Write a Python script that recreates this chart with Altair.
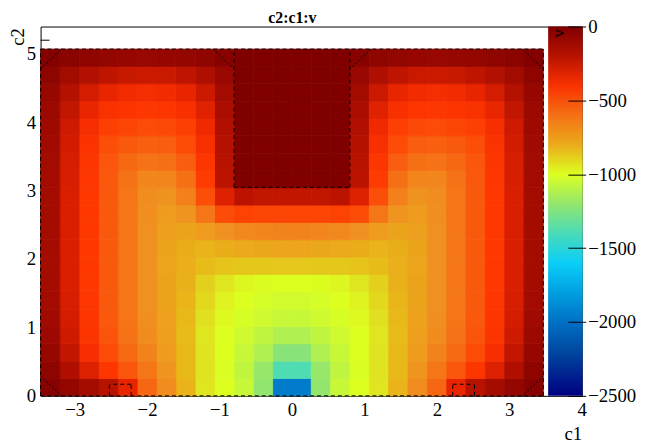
import altair as alt
import pandas as pd

# ---------------- data ----------------
# cell edges for the half c1 >= 0 (the field is mirror-symmetric in c1)
c1_edges = [0.0, 0.267, 0.534, 0.801, 1.068, 1.335, 1.602, 1.869,
            2.136, 2.403, 2.670, 2.937, 3.204, 3.470]
c2_edges = [0.0, 0.2535, 0.507, 0.7605, 1.014, 1.2675, 1.521, 1.7745,
            2.028, 2.2815, 2.535, 2.7885, 3.042, 3.2955, 3.549, 3.8025,
            4.056, 4.3095, 4.563, 4.8165, 5.07]

# potential v per cell, rows from c2=0 upward, columns from c1=0 outward
v_rows = [
    [-1950, -1200, -1060, -1000, -960, -830, -690, -570, -330, -200, -130, -70, -25],
    [-1380, -1190, -1080, -1010, -955, -850, -720, -620, -520, -420, -300, -170, -50],
    [-1230, -1125, -1060, -1000, -955, -850, -740, -660, -580, -490, -380, -230, -80],
    [-1125, -1080, -1040, -1000, -960, -860, -760, -685, -605, -515, -410, -260, -100],
    [-1060, -1040, -1015, -990, -950, -850, -765, -695, -615, -525, -420, -275, -115],
    [-1030, -1020, -1000, -980, -930, -840, -770, -700, -620, -530, -425, -285, -125],
    [-1000, -995, -985, -960, -910, -825, -770, -700, -620, -530, -430, -290, -130],
    [-890, -888, -885, -880, -860, -815, -775, -700, -620, -530, -430, -290, -130],
    [-780, -785, -795, -810, -830, -810, -770, -700, -620, -530, -430, -290, -130],
    [-660, -665, -675, -700, -740, -770, -760, -700, -620, -530, -430, -290, -130],
    [-470, -470, -460, -490, -620, -720, -740, -695, -620, -530, -430, -290, -130],
    [-230, -225, -210, -300, -500, -650, -710, -690, -615, -530, -430, -290, -130],
    [0, 0, 0, -210, -440, -600, -670, -670, -610, -525, -425, -285, -125],
    [0, 0, 0, -200, -420, -540, -600, -610, -575, -520, -420, -280, -120],
    [0, 0, 0, -190, -390, -490, -540, -550, -530, -495, -405, -270, -115],
    [0, 0, 0, -175, -355, -450, -480, -485, -470, -450, -380, -255, -108],
    [0, 0, 0, -155, -310, -390, -420, -425, -415, -400, -335, -225, -95],
    [0, 0, 0, -125, -250, -330, -365, -375, -365, -330, -275, -185, -78],
    [0, 0, 0, -85, -165, -220, -245, -250, -240, -215, -180, -120, -50],
    [0, 0, 0, -28, -55, -72, -82, -84, -80, -72, -60, -40, -16],
]

# geometry outlines (data coordinates)
outer_c1 = 3.47
outer_c2 = 5.07
block_c1 = 0.8
block_c2 = [3.05, 5.07]
pad_c1 = [2.22, 2.52]
pad_c2 = 0.17
chamfer = 0.29

x_ticks = [-3, -2, -1, 0, 1, 2, 3, 4]
y_ticks = [0, 1, 2, 3, 4, 5]
y_minor = [5.2]
cbar_ticks = [0, -500, -1000, -1500, -2000, -2500]

# colour palette (value -> colour)
pal_values = [-2500, -2200, -2000, -1800, -1625, -1500, -1375, -1250, -1125,
              -1000, -950, -850, -700, -550, -430, -350, -200, 0]
pal_colors = ["#000080", "#0048a0", "#0070c4", "#00a0e0", "#00ccff", "#30d8d8",
              "#50dcb0", "#80e080", "#b0f050", "#dcff20", "#e0e020", "#e8b818",
              "#f09020", "#f86010", "#ff3800", "#f02800", "#b81200", "#800000"]

# ---------------- tables ----------------
cells = []
for j, row in enumerate(v_rows):
    for i, v in enumerate(row):
        y0, y1 = c2_edges[j], c2_edges[j + 1]
        cells.append(dict(x=c1_edges[i], x2=c1_edges[i + 1], y=y0, y2=y1, v=v))
        cells.append(dict(x=-c1_edges[i + 1], x2=-c1_edges[i], y=y0, y2=y1, v=v))
cells = pd.DataFrame(cells)

dashed = []
dashed += [dict(x=-outer_c1, y=0, x2=outer_c1, y2=0),
           dict(x=-outer_c1, y=outer_c2, x2=outer_c1, y2=outer_c2),
           dict(x=-outer_c1, y=0, x2=-outer_c1, y2=outer_c2),
           dict(x=outer_c1, y=0, x2=outer_c1, y2=outer_c2)]
dashed += [dict(x=-block_c1, y=block_c2[0], x2=-block_c1, y2=block_c2[1]),
           dict(x=block_c1, y=block_c2[0], x2=block_c1, y2=block_c2[1]),
           dict(x=-block_c1, y=block_c2[0], x2=block_c1, y2=block_c2[0])]
for s in (-1, 1):
    a, b = s * pad_c1[0], s * pad_c1[1]
    dashed += [dict(x=a, y=0, x2=a, y2=pad_c2),
               dict(x=b, y=0, x2=b, y2=pad_c2),
               dict(x=a, y=pad_c2, x2=b, y2=pad_c2)]
dashed = pd.DataFrame(dashed)

dotted = []
for s in (-1, 1):
    dotted += [
        dict(x=s * outer_c1, y=outer_c2 - chamfer, x2=s * (outer_c1 - chamfer), y2=outer_c2),
        dict(x=s * (block_c1 + chamfer), y=outer_c2, x2=s * block_c1, y2=outer_c2 - chamfer),
        dict(x=s * outer_c1, y=chamfer, x2=s * (outer_c1 - chamfer), y2=0),
    ]
dotted = pd.DataFrame(dotted)

# ---------------- chart ----------------
FONT = "'Liberation Serif', 'Times New Roman', serif"
xscale = alt.Scale(domain=[-3.47, 4.0], nice=False, zero=False)
yscale = alt.Scale(domain=[0, 5.4], nice=False, zero=False)
cscale = alt.Scale(type="linear", domain=pal_values, range=pal_colors,
                   interpolate="rgb")

heat = alt.Chart(cells).mark_rect(
    stroke={"expr": "scale('color', datum.v)"}, strokeWidth=0.8
).encode(
    x=alt.X("x:Q", scale=xscale,
            axis=alt.Axis(values=x_ticks, format="d", ticks=False, domain=False,
                          grid=False, labelFont=FONT, labelFontSize=19,
                          labelPadding=5, labelColor="black", labelFlush=False,
                          labelOverlap=False, title="c1", titleFont=FONT,
                          titleFontSize=19, titleFontWeight="normal",
                          titleColor="black", titleAlign="right", titleX=548,
                          titleY=44, titleBaseline="alphabetic")),
    x2="x2:Q",
    y=alt.Y("y:Q", scale=yscale,
            axis=alt.Axis(values=y_ticks, format="d", ticks=False, domain=False,
                          grid=False, labelFont=FONT, labelFontSize=19,
                          labelPadding=5, labelColor="black", labelFlush=False,
                          labelOverlap=False, title="c2", titleFont=FONT,
                          titleFontSize=19, titleFontWeight="normal",
                          titleColor="black", titleAngle=270, titleAlign="right",
                          titleX=-17, titleY=1, titleBaseline="alphabetic")),
    y2="y2:Q",
    color=alt.Color("v:Q", scale=cscale,
                    legend=alt.Legend(type="gradient", orient="none",
                                      legendX=514, legendY=0,
                                      direction="vertical", gradientLength=374,
                                      gradientThickness=35, title=None,
                                      labelExpr="''", labelOpacity=0,
                                      gradientStrokeWidth=0,
                                      padding=0, offset=0)),
)

dash_layer = alt.Chart(dashed).mark_rule(color="black", strokeWidth=1,
                                         strokeDash=[4, 3]).encode(
    x=alt.X("x:Q", scale=xscale), y=alt.Y("y:Q", scale=yscale),
    x2="x2:Q", y2="y2:Q")

dot_layer = alt.Chart(dotted).mark_rule(color="black", strokeWidth=1,
                                        strokeDash=[2, 2]).encode(
    x=alt.X("x:Q", scale=xscale), y=alt.Y("y:Q", scale=yscale),
    x2="x2:Q", y2="y2:Q")

minor = alt.Chart(pd.DataFrame({"y": y_minor})).mark_rule(color="black",
                                                           strokeWidth=1).encode(
    y=alt.Y("y:Q", scale=yscale), x=alt.value(0), x2=alt.value(9))

inner = alt.layer(heat, dash_layer, dot_layer, minor)

cbar = alt.Chart(pd.DataFrame({"v": cbar_ticks})).mark_point(opacity=0).encode(
    y=alt.Y("v:Q", scale=alt.Scale(domain=[-2500, 0], nice=False, zero=False),
            axis=alt.Axis(orient="right", offset=-14, values=cbar_ticks,
                          format="d", tickSize=18, tickColor="black",
                          tickWidth=1, ticks=True, domain=False, grid=False,
                          labelPadding=2, labelFont=FONT, labelFontSize=19,
                          labelColor="black", labelFlush=False,
                          labelOverlap=False, title="v", titleAngle=270,
                          titleAlign="right", titleBaseline="alphabetic",
                          titleX=-4, titleY=2, titleFont=FONT,
                          titleFontSize=17, titleFontWeight="normal",
                          titleColor="black", zindex=2)),
)

chart = alt.layer(inner, cbar).resolve_scale(y="independent").properties(
    width=548, height=374,
    background="white",
    title=alt.TitleParams("c2:c1:v", font=FONT, fontSize=16, fontWeight="bold",
                          anchor="middle", frame="group", dx=-19,
                          offset=-21, baseline="alphabetic", color="black"),
    autosize=alt.AutoSizeParams(type="none"),
    padding={"left": 33, "top": 16, "right": 57, "bottom": 47},
).configure_view(stroke="black", strokeWidth=1)

chart.save("out.html", embed_options={"renderer": "svg", "actions": False})
